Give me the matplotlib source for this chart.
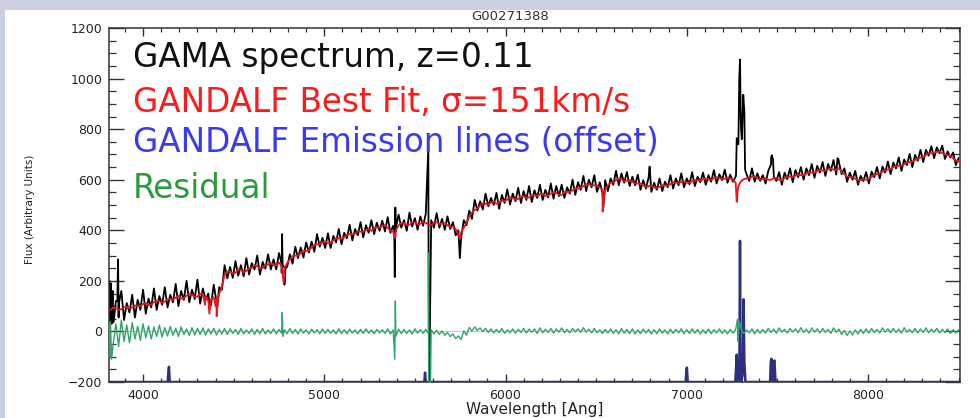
import numpy as np
import matplotlib
matplotlib.use("Agg")
import matplotlib.pyplot as plt
from matplotlib.patches import Rectangle
from matplotlib.ticker import MultipleLocator

# ---------------- data ----------------
grid_wave = np.arange(3820, 8501, 30)  # 157 sample wavelengths [Ang]
mid_wave = np.arange(3835, 8486, 30)   # 156 in-between samples [Ang]

fit_flux = [
    85, 92, 88, 97, 94, 103, 108, 104, 116, 120,
    118, 128, 134, 130, 142, 146, 138, 150, 120, 135,
    150, 225, 238, 232, 245, 240, 252, 258, 250, 265,
    262, 272, 230, 285, 300, 310, 318, 332, 345, 352,
    348, 360, 368, 372, 385, 388, 395, 402, 398, 412,
    418, 410, 395, 420, 428, 422, 432, 426, 430, 420,
    432, 428, 420, 415, 380, 410, 455, 480, 498, 505,
    510, 505, 518, 522, 528, 524, 535, 530, 538, 542,
    536, 545, 548, 540, 552, 558, 565, 575, 582, 578,
    570, 560, 588, 598, 602, 596, 592, 585, 578, 575,
    570, 572, 578, 583, 588, 592, 588, 594, 598, 602,
    600, 606, 608, 604, 606, 590, 595, 605, 612, 606,
    603, 600, 606, 600, 606, 612, 616, 618, 624, 628,
    634, 636, 642, 640, 646, 622, 610, 604, 598, 600,
    612, 622, 632, 640, 650, 655, 662, 670, 678, 688,
    698, 705, 710, 705, 698, 685, 672]
fit_mid = [
    95, 86, 96, 92, 102, 100, 112, 106, 122, 114,
    126, 126, 140, 132, 148, 136, 148, 140, 128, 130,
    175, 236, 228, 246, 232, 250, 262, 248, 262, 270,
    262, 258, 270, 298, 300, 320, 322, 342, 346, 356,
    350, 368, 366, 382, 384, 396, 394, 404, 408, 410,
    420, 398, 400, 428, 420, 430, 424, 432, 422, 430,
    424, 428, 414, 405, 392, 430, 470, 486, 506, 502,
    512, 510, 515, 530, 522, 532, 528, 538, 536, 544,
    538, 550, 540, 550, 552, 566, 568, 582, 576, 578,
    560, 578, 590, 604, 595, 598, 584, 585, 572, 576,
    568, 578, 576, 590, 586, 594, 588, 598, 596, 604,
    600, 610, 602, 608, 598, 575, 602, 606, 614, 600,
    606, 600, 606, 598, 612, 610, 620, 618, 628, 628,
    638, 636, 644, 640, 630, 612, 610, 598, 602, 602,
    620, 624, 638, 642, 654, 656, 668, 672, 684, 690,
    704, 706, 712, 700, 694, 676]
fit_line_wave = [4342, 4366, 4372, 4400, 4406, 4412, 4776, 4782, 5392, 5748, 5752,
                 6536, 6542, 7276, 7282]
fit_line_flux = [105, 70, 110, 100, 60, 120, 190, 250, 370, 366, 372,
                 474, 520, 513, 560]

obs_flux = [
    150, 120, 160, 112, 145, 125, 165, 130, 170, 140,
    175, 145, 188, 160, 200, 165, 205, 170, 150, 185,
    175, 262, 255, 278, 262, 290, 270, 300, 275, 305,
    285, 310, 255, 305, 335, 332, 352, 355, 385, 370,
    388, 378, 405, 390, 422, 405, 432, 420, 440, 430,
    438, 452, 418, 462, 440, 470, 448, 455, 465, 440,
    468, 445, 455, 432, 400, 440, 478, 520, 515, 545,
    528, 548, 540, 562, 545, 568, 555, 575, 558, 580,
    560, 585, 575, 580, 570, 600, 590, 615, 600, 618,
    590, 598, 605, 635, 625, 630, 612, 620, 598, 610,
    588, 605, 592, 618, 605, 625, 605, 630, 612, 628,
    618, 638, 622, 640, 620, 612, 800, 622, 645, 625,
    618, 635, 622, 630, 628, 645, 638, 650, 645, 662,
    655, 670, 662, 678, 668, 645, 628, 635, 615, 630,
    632, 650, 652, 672, 668, 688, 680, 702, 698, 718,
    718, 732, 728, 735, 712, 708, 685]
obs_mid = [
    35, 55, 45, 75, 55, 85, 70, 95, 85, 105,
    95, 115, 100, 125, 115, 128, 110, 125, 105, 118,
    165, 210, 212, 220, 218, 225, 245, 225, 248, 245,
    245, 232, 255, 268, 290, 292, 312, 315, 335, 330,
    330, 352, 345, 368, 360, 380, 372, 390, 385, 398,
    395, 390, 395, 410, 398, 415, 402, 418, 405, 410,
    410, 402, 405, 380, 370, 420, 445, 478, 482, 495,
    500, 485, 508, 502, 515, 508, 520, 512, 528, 520,
    530, 525, 535, 528, 545, 540, 560, 555, 570, 552,
    550, 555, 580, 578, 588, 575, 578, 560, 565, 552,
    560, 555, 570, 565, 578, 570, 582, 575, 590, 580,
    592, 585, 598, 588, 592, 740, 900, 595, 592, 595,
    585, 660, 595, 580, 602, 590, 610, 600, 618, 608,
    628, 615, 635, 620, 622, 592, 600, 580, 595, 585,
    610, 605, 628, 622, 645, 635, 658, 650, 675, 670,
    695, 685, 705, 682, 688, 658]
obs_line_wave = [3814, 3817, 3823, 3826, 3832, 3838, 3858, 3862, 3866,
                 4368, 4408, 4764, 4767, 4770, 4780, 4786,
                 5386, 5389, 5392, 5395, 5574, 5578, 5748,
                 6540, 6795, 7272, 7276, 7282, 7290, 7294, 7298, 7304, 7312, 7318, 7322,
                 7466, 7470, 7476, 7482, 7832, 7838]
obs_line_flux = [200, 20, 190, 30, 160, 40, 120, 285, 110,
                 95, 85, 270, 385, 260, 185, 250,
                 400, 215, 490, 410, 726, -260, 290,
                 490, 652, 620, 764, 740, 1000, 1075, 850, 760, 936, 870, 640,
                 690, 697, 680, 610, 685, 680]

resid_flux = [
    40, 30, 45, 25, 35, 20, 30, 22, 18, 25,
    15, 20, 12, 18, 10, 15, 12, 14, 10, 12,
    8, 12, 10, 8, 12, 6, 10, 8, 12, 6,
    10, 8, 6, 12, 8, 10, 6, 9, 7, 10,
    8, 6, 10, 7, 9, 6, 8, 10, 6, 8,
    7, 10, 6, 9, 8, 6, 10, 7, 8, 6,
    4, 2, -4, -10, -18, 2, 16, 18, 14, 12,
    10, 8, 12, 6, 10, 8, 12, 9, 10, 14,
    8, 12, 10, 14, 8, 12, 10, 15, 9, 12,
    6, 8, 10, 7, 12, 8, 10, 6, 9, 8,
    7, 10, 6, 9, 8, 11, 7, 10, 8, 6,
    9, 7, 10, 6, 8, 7, 9, 6, 10, 8,
    7, 12, 9, 14, 8, 12, 10, 15, 9, 14,
    10, 12, 8, 14, 9, 4, 2, 6, 8, 10,
    12, 8, 14, 10, 12, 9, 15, 8, 12, 10,
    14, 9, 12, 8, 10, 7, 6]
resid_mid = [
    -50, -60, -40, -45, -30, -35, -25, -30, -20, -22,
    -18, -15, -20, -12, -16, -14, -12, -15, -10, -14,
    -10, -12, -8, -12, -10, -8, -12, -9, -10, -8,
    -10, -7, -9, -8, -11, -7, -10, -6, -9, -8,
    -7, -10, -8, -9, -6, -10, -8, -7, -9, -6,
    -8, -10, -7, -9, -8, -10, -7, -8, -9, -10,
    -12, -15, -20, -28, -32, -15, 2, 4, 0, -4,
    -6, -4, -8, -5, -7, -4, -6, -3, -8, -5,
    -4, -6, -3, -5, -6, -2, -4, -3, -6, -5,
    -8, -6, -8, -10, -7, -9, -10, -8, -6, -10,
    -9, -7, -10, -8, -6, -9, -8, -7, -10, -8,
    -9, -6, -8, -10, -7, -9, -8, -6, -10, -7,
    -6, -4, -7, -3, -6, -2, -5, -4, -7, -3,
    -6, -4, -8, -3, -12, -16, -14, -10, -8, -6,
    -4, -6, -3, -5, -4, -7, -3, -5, -6, -4,
    -5, -3, -6, -4, -8, -6]
resid_line_wave = [3814, 3817, 3826, 4768, 4772, 5389, 5392, 5395, 5575, 5578,
                   7280, 7284, 7290]
resid_line_flux = [30, -100, -110, 75, -20, -110, 120, -20, 310, -700,
                   48, -40, 40]

emis_wave = [3812, 4136, 4140, 4143, 4147, 5552, 5556, 5560, 6994, 6998, 7001, 7005,
             7268, 7272, 7276, 7280, 7288, 7291, 7294, 7297, 7302, 7310, 7314, 7318,
             7324, 7460, 7464, 7468, 7472, 7476, 7480, 7484, 7490, 8508]
emis_flux = [-200, -200, -160, -140, -200, -200, -163, -200, -200, -160, -143, -200,
             -200, -150, -92, -200, -200, -100, 358, -100, -200, -160, 127, -120,
             -200, -200, -120, -108, -140, -200, -125, -115, -200, -200]

xlim = (3812, 8508)
ylim = (-200, 1200)
legend_lines = ["GAMA spectrum, z=0.11", "GANDALF Best Fit, \u03c3=151km/s",
                "GANDALF Emission lines (offset)", "Residual"]


def merged(*pairs):
    w = np.concatenate([np.asarray(p[0], float) for p in pairs])
    f = np.concatenate([np.asarray(p[1], float) for p in pairs])
    o = np.argsort(w, kind="stable")
    return w[o], f[o]


# ---------------- figure ----------------
W, H = 980, 418
fig = plt.figure(figsize=(W / 100, H / 100), dpi=100, facecolor="#cdd0e4")
fig.patches.append(Rectangle((5 / W, 0), 1, (H - 10) / H, transform=fig.transFigure,
                             facecolor="white", edgecolor="none", zorder=-5))

ax = fig.add_axes([109 / W, 1 - 382 / H, (960 - 109) / W, (382 - 28) / H])
ax.set_facecolor("white")

ow, of = merged((grid_wave, obs_flux), (mid_wave, obs_mid), (obs_line_wave, obs_line_flux))
fw, ff = merged((grid_wave, fit_flux), (mid_wave, fit_mid), (fit_line_wave, fit_line_flux))
rw, rf = merged((grid_wave, resid_flux), (mid_wave, resid_mid),
                (resid_line_wave, resid_line_flux))

ax.axhline(0, color="#c8c8c8", lw=0.8, zorder=1)
ax.plot(ow, of, color="black", lw=1.3, zorder=2)
ax.plot(fw, ff, color="#e8141e", lw=1.3, zorder=3)
ax.plot(emis_wave, emis_flux, color="#2e2e80", lw=1.8, zorder=4)
ax.plot(rw, rf, color="#2fa56a", lw=1.0, zorder=5)

ax.set_xlim(*xlim)
ax.set_ylim(*ylim)
ax.xaxis.set_major_locator(MultipleLocator(1000))
ax.xaxis.set_minor_locator(MultipleLocator(100))
ax.yaxis.set_major_locator(MultipleLocator(200))
ax.yaxis.set_minor_locator(MultipleLocator(50))
ax.tick_params(axis="both", which="both", direction="in", top=True, right=True,
               colors="#333333", labelcolor="#222222", labelsize=9)
ax.tick_params(axis="y", which="major", length=10.5, width=1.0, pad=5)
ax.tick_params(axis="y", which="minor", length=5, width=0.9)
ax.tick_params(axis="x", which="major", length=6, width=1.0, pad=5)
ax.tick_params(axis="x", which="minor", length=3, width=0.9)
for s in ax.spines.values():
    s.set_color("#333333")
    s.set_linewidth(1.1)

ax.set_xlabel("Wavelength [Ang]", fontsize=11, color="#222222", labelpad=0)
fig.text(30 / W, 1 - 209 / H, "Flux (Arbitrary Units)", rotation=90, fontsize=7.5,
         color="#222222", ha="center", va="center")
fig.text(510 / W, 1 - 17 / H, "G00271388", fontsize=9.5, color="#333333",
         ha="center", va="center")

colors = ["#111111", "#ff1a1a", "#3a3af0", "#2a9a3a"]
baselines = [67, 112, 152, 198]
for txt, c, b in zip(legend_lines, colors, baselines):
    fig.text(133 / W, 1 - b / H, txt, fontsize=23.5, color=c,
             family=["DejaVu Sans"], ha="left", va="baseline", zorder=6)

fig.savefig("out.png", dpi=100, facecolor=fig.get_facecolor())
